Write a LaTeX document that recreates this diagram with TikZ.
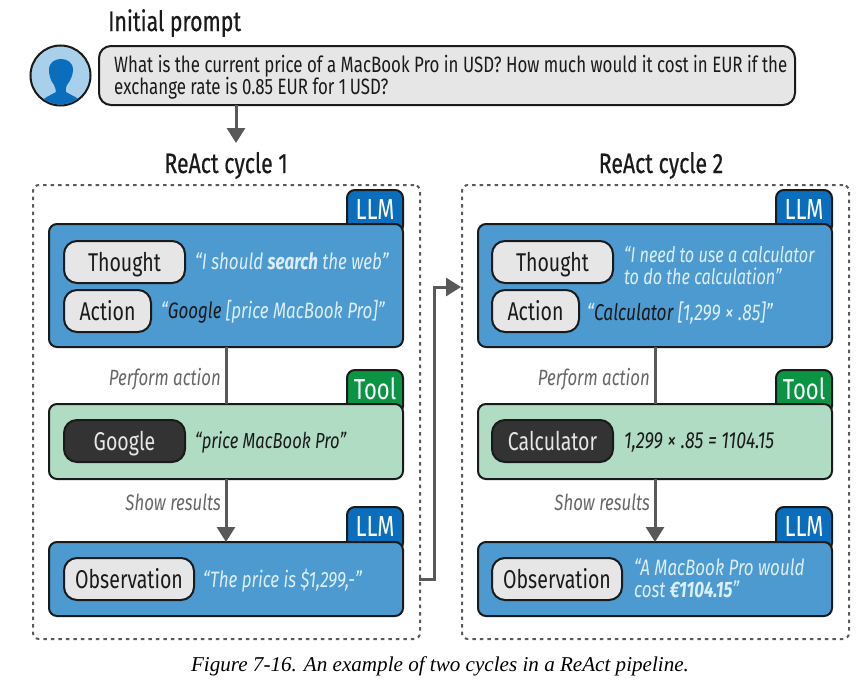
\documentclass[tikz,border=0pt]{standalone}
\usepackage{fontspec}
\setmainfont[FakeStretch=0.76]{Fira Sans}
\newfontfamily\titlefont[FakeStretch=0.76,FakeBold=0.5]{Fira Sans}
\newfontfamily\capfont{Liberation Serif}
\usetikzlibrary{arrows.meta,calc}
\definecolor{boxblue}{HTML}{4C9AD0}
\definecolor{tabblue}{HTML}{0A6EBD}
\definecolor{tabgreen}{HTML}{0B9444}
\definecolor{mint}{HTML}{B1DCC4}
\definecolor{pill}{HTML}{E6E6E6}
\definecolor{darkpill}{HTML}{333333}
\definecolor{ink}{HTML}{1A1A1A}
\definecolor{conn}{HTML}{595959}
\definecolor{lbl}{HTML}{666666}
\definecolor{quote}{HTML}{DCEEFA}
\definecolor{avatar}{HTML}{A9D0EA}
\tikzset{
  x=1pt,y=-1pt,
  rbox/.style={draw=ink,line width=2pt,rounded corners=8pt,inner sep=0pt,outer sep=0pt,minimum width=354pt},
  llmbox/.style={rbox,fill=boxblue},
  toolbox/.style={rbox,fill=mint},
  tabbox/.style={draw=ink,line width=2pt,rounded corners=8pt,minimum width=56pt,minimum height=44pt,inner sep=0pt,outer sep=0pt,anchor=north east},
  tabtxt/.style={font=\fontsize{29}{29}\selectfont,text=white,inner sep=0pt,anchor=base},
  pillbox/.style={draw=ink,line width=2pt,rounded corners=13pt,fill=pill,minimum height=42pt,text height=22pt,text depth=3pt,inner sep=0pt,outer sep=0pt,anchor=north west,font=\fontsize{25.7}{25.7}\selectfont,text=ink},
  darkbox/.style={pillbox,fill=darkpill,text=pill},
  dashbox/.style={draw=conn,line width=2pt,dash pattern=on 3.5pt off 4pt,rounded corners=6pt,inner sep=0pt,minimum width=387pt,minimum height=454pt,anchor=north west},
  conline/.style={draw=conn,line width=3pt},
  arr/.style={conline,-{Triangle[length=15pt,width=18pt]}},
  quotetxt/.style={font=\fontsize{22.3}{22}\selectfont\itshape,text=quote,inner sep=0pt,anchor=base west,align=left},
  darktxt/.style={font=\fontsize{22.3}{22}\selectfont\itshape,text=ink,inner sep=0pt,anchor=base west,align=left},
  steplbl/.style={font=\fontsize{22.1}{22}\selectfont\itshape,text=lbl,inner sep=0pt,anchor=base east},
  title/.style={font=\fontsize{28}{28}\selectfont\titlefont,text=ink,inner sep=0pt,anchor=base},
}
\newcommand{\hl}[1]{\textcolor{ink}{#1}}
\AtBeginDocument{\lineskiplimit=-10pt\relax}
\begin{document}
\begin{tikzpicture}
\useasboundingbox (0,0) rectangle (856,680);
% initial prompt
\node[title,anchor=base west] (tinit) at (108,31) {Initial prompt};
\node[draw=ink,line width=2pt,circle,fill=avatar,minimum size=60pt,inner sep=0pt] (av) at (60.5,75.5) {};
\begin{scope}
\clip (60.5,75.5) circle (29pt);
\fill[tabblue] (38,107) .. controls (42,97) and (50,96) .. (56,92) .. controls (56,90) and (55,87) .. (54,85)
  .. controls (50,80) and (49,74) .. (49,70) .. controls (49,62) and (55,59) .. (61,59)
  .. controls (67,59) and (73,62) .. (73,70) .. controls (73,74) and (71,80) .. (67,85)
  .. controls (66,87) and (65,90) .. (66,92) .. controls (72,96) and (80,97) .. (84,107) -- cycle;
\end{scope}
\node[draw=ink,line width=2pt,fill=pill,rounded corners=12pt,minimum width=696pt,minimum height=59pt,inner sep=0pt,outer sep=0pt,anchor=north west] (prompt) at (99,46) {};
\node[font=\fontsize{22.2}{22}\selectfont,text=ink,inner sep=0pt,anchor=base west,align=left] (ptxt) at (114,94) {What is the current price of a MacBook Pro in USD? How much would it cost in EUR if the\\exchange rate is 0.85 EUR for 1\,USD?};
\coordinate (pout) at (236,105);
\coordinate (pin) at (236,143);
\draw[arr] (pout) -- (pin);
\node[title] (t1) at (226,173) {ReAct cycle 1};
\node[title] (t2) at (661,173) {ReAct cycle 2};
% dashed frames
\node[dashbox] (f1) at (32,184) {};
\node[dashbox] (f2) at (461,184) {};
% ---- cycle 1
\node[tabbox,fill=tabblue] (tab1) at (403,190) {};
\node[tabtxt] (tab1t) at (375,219) {LLM};
\node[llmbox,minimum height=123pt,anchor=north west] (a1) at (49,224) {};
\node[pillbox,minimum width=121pt] (th1) at (64,241) {Thought};
\node[pillbox,minimum width=87pt] (ac1) at (64,290) {Action};
\node[quotetxt] (q1) at (195,269) {“I should \textbf{search} the web”};
\node[quotetxt] (q2) at (161,318) {“\hl{Google} [price MacBook Pro]”};
\node[tabbox,fill=tabgreen] (tab2) at (403,370) {};
\node[tabtxt] (tab2t) at (375,399) {Tool};
\node[toolbox,minimum height=75pt,anchor=north west] (b1) at (49,404) {};
\node[darkbox,minimum width=121pt] (go1) at (64,420) {Google};
\node[darktxt,font=\fontsize{21.8}{22}\selectfont\itshape] (q3) at (195,448) {“price MacBook Pro”};
\node[tabbox,fill=tabblue] (tab3) at (403,507) {};
\node[tabtxt] (tab3t) at (375,536) {LLM};
\node[llmbox,minimum height=74pt,anchor=north west] (c1) at (49,542) {};
\node[pillbox,minimum width=130pt] (ob1) at (64,558) {Observation};
\node[quotetxt] (q4) at (203,587) {“The price is \$1,299,-”};
\draw[conline] (a1.south) -- (b1.north);
\draw[arr] (b1.south) -- (c1.north);
\node[steplbl] (l1) at (221,385) {Perform action};
\node[steplbl] (l2) at (221,510) {Show results};
% ---- cycle 2
\node[tabbox,fill=tabblue] (tab4) at (832,190) {};
\node[tabtxt] (tab4t) at (804,219) {LLM};
\node[llmbox,minimum height=123pt,anchor=north west] (a2) at (478,224) {};
\node[pillbox,minimum width=121pt] (th2) at (492,241) {Thought};
\node[pillbox,minimum width=87pt] (ac2) at (492,290) {Action};
\node[quotetxt,font=\fontsize{21.4}{22}\selectfont\itshape] (q5) at (624,284) {“I need to use a calculator\\to do the calculation”};
\node[quotetxt,font=\fontsize{22.8}{22}\selectfont\itshape] (q6) at (587,320) {“\hl{Calculator} [1,299 × .85]”};
\node[tabbox,fill=tabgreen] (tab5) at (832,370) {};
\node[tabtxt] (tab5t) at (804,399) {Tool};
\node[toolbox,minimum height=75pt,anchor=north west] (b2) at (478,404) {};
\node[darkbox,minimum width=121pt] (go2) at (492,420) {Calculator};
\node[darktxt,font=\fontsize{23.3}{22}\selectfont\itshape] (q7) at (624,448) {1,299 × .85 = 1104.15};
\node[tabbox,fill=tabblue] (tab6) at (832,507) {};
\node[tabtxt] (tab6t) at (804,536) {LLM};
\node[llmbox,minimum height=74pt,anchor=north west] (c2) at (478,542) {};
\node[pillbox,minimum width=130pt] (ob2) at (492,558) {Observation};
\node[quotetxt] (q8) at (634,597) {“A MacBook Pro would\\cost \textbf{€1104.15}”};
\draw[conline] (a2.south) -- (b2.north);
\draw[arr] (b2.south) -- (c2.north);
\node[steplbl] (l3) at (650,385) {Perform action};
\node[steplbl] (l4) at (650,510) {Show results};
% link
\coordinate (lnkout) at (419,579);
\coordinate (lnkin) at (461,287);
\draw[arr,rounded corners=0pt] (lnkout) -- (434,579) -- (434,287) -- (lnkin);
% caption
\node[font=\fontsize{21.1}{21.1}\selectfont\capfont\itshape,text=black,inner sep=0pt,anchor=base] (cap) at (440,671) {Figure 7-16. An example of two cycles in a ReAct pipeline.};
\end{tikzpicture}
\end{document}
